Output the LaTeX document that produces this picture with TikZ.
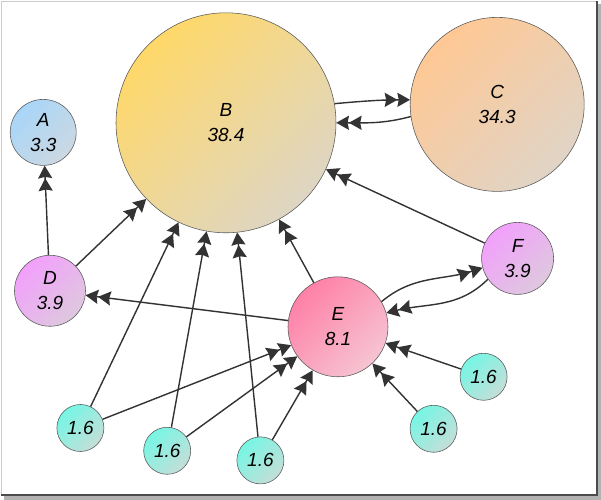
\documentclass[tikz,border=0pt]{standalone}
\usepackage{fontspec}
\setmainfont{Liberation Sans}
\usepackage{tikz}
\usetikzlibrary{arrows.meta}

\definecolor{ayel}{RGB}{255,216,105}
\definecolor{byel}{RGB}{222,214,196}
\definecolor{aorg}{RGB}{255,200,148}
\definecolor{borg}{RGB}{224,212,198}
\definecolor{ablu}{RGB}{168,214,248}
\definecolor{bblu}{RGB}{204,216,226}
\definecolor{avio}{RGB}{242,160,252}
\definecolor{bvio}{RGB}{222,200,222}
\definecolor{apnk}{RGB}{255,128,168}
\definecolor{bpnk}{RGB}{246,196,210}
\definecolor{atrq}{RGB}{118,246,228}
\definecolor{btrq}{RGB}{196,222,216}

\begin{document}
\begin{tikzpicture}[
  page/.style 2 args={circle,draw=black!65,thin,inner sep=0pt,align=center,
    top color=#1,bottom color=#2,shading angle=45,
    font=\fontsize{13.5}{18}\selectfont\itshape},
  pr/.style={draw=black!80,line width=1pt,
    -{Stealth[length=9pt,width=10pt,inset=1pt,sep=0pt]Stealth[length=9pt,width=10pt,inset=1pt]}}]
\useasboundingbox (0,0) rectangle (15.025,12.5);
\fill[black!30] (0.1,0) rectangle (15.025,12.4);
\draw[black!20,fill=white] (0.025,0.125) rectangle (14.925,12.475);
\draw[black!70,line width=1pt] (0.025,0.125) -- (14.925,0.125) -- (14.925,12.475);

\node (b)  [page={ayel}{byel},minimum size=5.5cm]   at (5.65,9.43)  {B\\38.4};
\node (c)  [page={aorg}{borg},minimum size=4.35cm]  at (12.43,9.89) {C\\34.3};
\node (a)  [page={ablu}{bblu},minimum size=1.65cm]  at (1.08,9.19)  {A\\3.3};
\node (d)  [page={avio}{bvio},minimum size=1.775cm] at (1.25,5.23)  {D\\3.9};
\node (e)  [page={apnk}{bpnk},minimum size=2.5cm]   at (8.45,4.33)  {E\\8.1};
\node (f)  [page={avio}{bvio},minimum size=1.8cm]   at (12.94,6.04) {F\\3.9};
\node (l1) [page={atrq}{btrq},minimum size=1.175cm] at (2.01,1.8)   {1.6};
\node (l2) [page={atrq}{btrq},minimum size=1.175cm] at (4.18,1.23)  {1.6};
\node (l3) [page={atrq}{btrq},minimum size=1.175cm] at (6.51,0.99)  {1.6};
\node (l4) [page={atrq}{btrq},minimum size=1.175cm] at (10.84,1.78) {1.6};
\node (l5) [page={atrq}{btrq},minimum size=1.175cm] at (12.09,3.08) {1.6};

\draw[pr] (b.10) to[out=5,in=180] (c.177);
\draw[pr] (c.188) to[out=195,in=0] (b.0);
\draw[pr] (d) -- (a);
\draw[pr] (d) -- (b);
\draw[pr] (e) -- (d);
\draw[pr] (e) -- (b);
\draw[pr] (f) -- (b);
\draw[pr] (e.30) to[out=40,in=198] (f.195);
\draw[pr] (f.215) to[out=225,in=14] (e.16);
\draw[pr] (l1) -- (b);
\draw[pr] (l1) -- (e);
\draw[pr] (l2) -- (b);
\draw[pr] (l2) -- (e);
\draw[pr] (l3) -- (b);
\draw[pr] (l3) -- (e);
\draw[pr] (l4) -- (e);
\draw[pr] (l5) -- (e);
\end{tikzpicture}
\end{document}
